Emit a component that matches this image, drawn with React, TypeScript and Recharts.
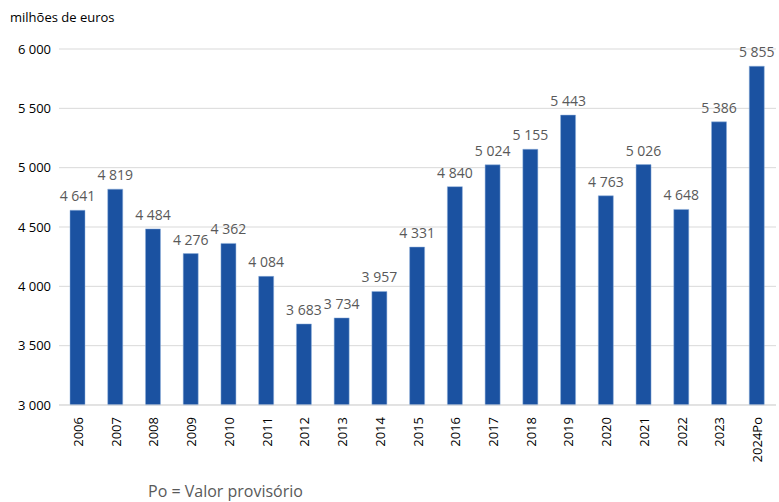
import { BarChart, Bar, XAxis, YAxis, CartesianGrid, LabelList } from 'recharts';

const years = [
  '2006', '2007', '2008', '2009', '2010', '2011', '2012', '2013', '2014', '2015',
  '2016', '2017', '2018', '2019', '2020', '2021', '2022', '2023', '2024Po',
];
const values = [
  4641, 4819, 4484, 4276, 4362, 4084, 3683, 3734, 3957, 4331,
  4840, 5024, 5155, 5443, 4763, 5026, 4648, 5386, 5855,
];
const yTicks = [3000, 3500, 4000, 4500, 5000, 5500, 6000];

const data = years.map((ano, i) => ({ ano, valor: values[i] }));

const font = '"Open Sans", "Noto Sans", sans-serif';

// 4641 -> "4 641"
const fmt = (v: number) => String(v).replace(/\B(?=(\d{3})+(?!\d))/g, ' ');

const YearTick = ({ x, y, payload }: any) => (
  <text
    x={x}
    y={y + 4}
    transform={`rotate(-90, ${x}, ${y + 4})`}
    textAnchor="end"
    dominantBaseline="central"
    fontSize={13}
    fill="#000"
    fontFamily={font}
  >
    {payload.value}
  </text>
);

const ValueLabel = ({ x, y, width, value }: any) => (
  <text
    x={x + width / 2}
    y={y - 9}
    textAnchor="middle"
    fontSize={14}
    fill="#595959"
    fontFamily={font}
  >
    {fmt(Number(value))}
  </text>
);

export default function App() {
  return (
    <div style={{ position: 'relative', width: 779, height: 502, background: '#fff', fontFamily: font }}>
      <style>{'body{margin:0}'}</style>
      <div style={{ position: 'absolute', left: 10, top: 8, fontSize: 13, color: '#000' }}>
        milhões de euros
      </div>
      <BarChart
        width={779}
        height={502}
        data={data}
        margin={{ top: 49, right: 3, left: 0, bottom: 37 }}
      >
        <CartesianGrid vertical={false} stroke="#d9d9d9" />
        <XAxis
          dataKey="ano"
          interval={0}
          height={60}
          axisLine={{ stroke: '#d9d9d9' }}
          tickLine={false}
          tick={<YearTick />}
        />
        <YAxis
          width={59}
          domain={[3000, 6000]}
          ticks={yTicks}
          axisLine={false}
          tickLine={false}
          tickFormatter={fmt}
          tick={{ fontSize: 13, fill: '#000', fontFamily: font }}
        />
        <Bar dataKey="valor" fill="#1B52A1" stroke="#8fb0dd" strokeWidth={0.5} barSize={15} isAnimationActive={false}>
          <LabelList dataKey="valor" content={<ValueLabel />} />
        </Bar>
      </BarChart>
      <div style={{ position: 'absolute', left: 148, top: 482, fontSize: 16, lineHeight: '18px', color: '#595959' }}>
        Po = Valor provisório
      </div>
    </div>
  );
}
